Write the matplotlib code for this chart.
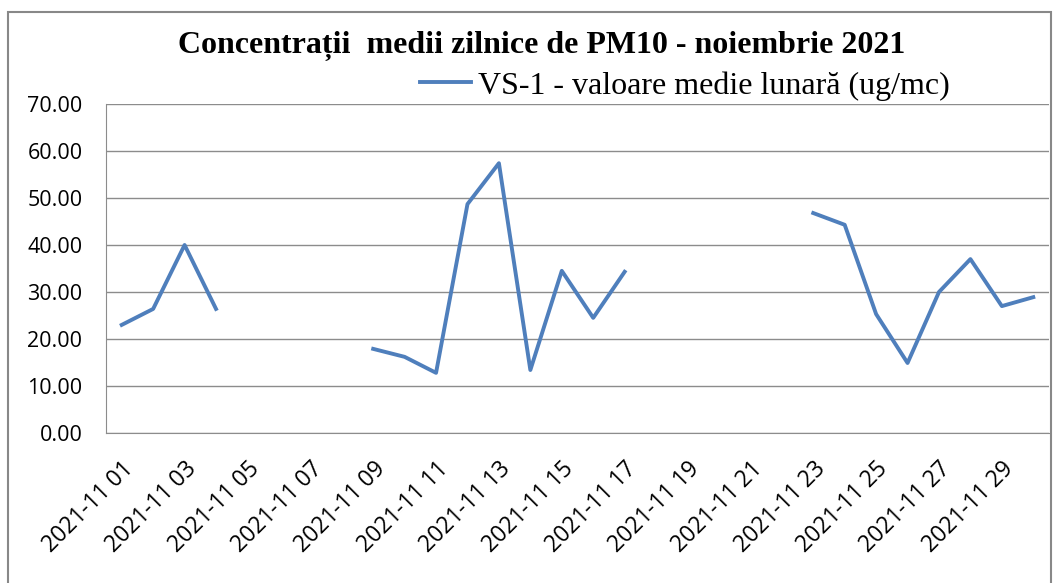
import numpy as np
import matplotlib.pyplot as plt
from matplotlib.patches import Rectangle

days = np.arange(1, 31)
labels = ["2021-11 %02d" % d for d in days]
pm10 = [23.0, 26.4, 40.0, 26.4, np.nan, np.nan, np.nan, np.nan,
        17.9, 16.2, 12.8, 48.7, 57.4, 13.4, 34.5, 24.5, 34.3,
        np.nan, np.nan, np.nan, np.nan, np.nan,
        46.8, 44.3, 25.3, 14.9, 30.0, 37.0, 27.0, 28.9]
yticks = np.arange(0, 71, 10)

fig = plt.figure(figsize=(10.59, 5.83), dpi=100)
fig.patches.append(Rectangle((8 / 1059, -0.1), 1043 / 1059, 1.1 - 12 / 583,
                             transform=fig.transFigure, fill=False,
                             edgecolor='#888888', linewidth=1.5))
ax = fig.add_axes([106 / 1059, 1 - 433 / 583, 943 / 1059, 329 / 583])

ax.plot(days, pm10, color='#4F7FBC', linewidth=2.8,
        label='VS-1 - valoare medie lunară (ug/mc)')

ax.set_xlim(0.5, 30.5)
ax.set_ylim(0, 70)
ax.set_yticks(yticks)
ax.set_yticklabels(["%.2f" % v for v in yticks], fontsize=15.5,
                   family='Open Sans')
ax.yaxis.grid(True, color='#8c8c8c', linewidth=1)
ax.set_axisbelow(True)
ax.set_xticks(days[::2])
ax.set_xticklabels(labels[::2], rotation=45, ha='right', rotation_mode='anchor',
                   fontsize=16.5, family='Open Sans')
ax.tick_params(axis='y', length=0, pad=17)
ax.tick_params(axis='x', length=0, pad=17)
for s in ['top', 'right']:
    ax.spines[s].set_visible(False)
for s in ['left', 'bottom']:
    ax.spines[s].set_color('#8c8c8c')

fig.text(542 / 1059, 1 - 46 / 583,
         'Concentrații  medii zilnice de PM10 - noiembrie 2021',
         ha='center', va='center', fontsize=23, fontweight='bold',
         family='Liberation Serif')
ax.legend(loc='center', bbox_to_anchor=(0.614, 1.055), frameon=False,
          prop={'family': 'Liberation Serif', 'size': 23},
          handlelength=1.6, handletextpad=0.2)

fig.savefig('out.png', dpi=100)
